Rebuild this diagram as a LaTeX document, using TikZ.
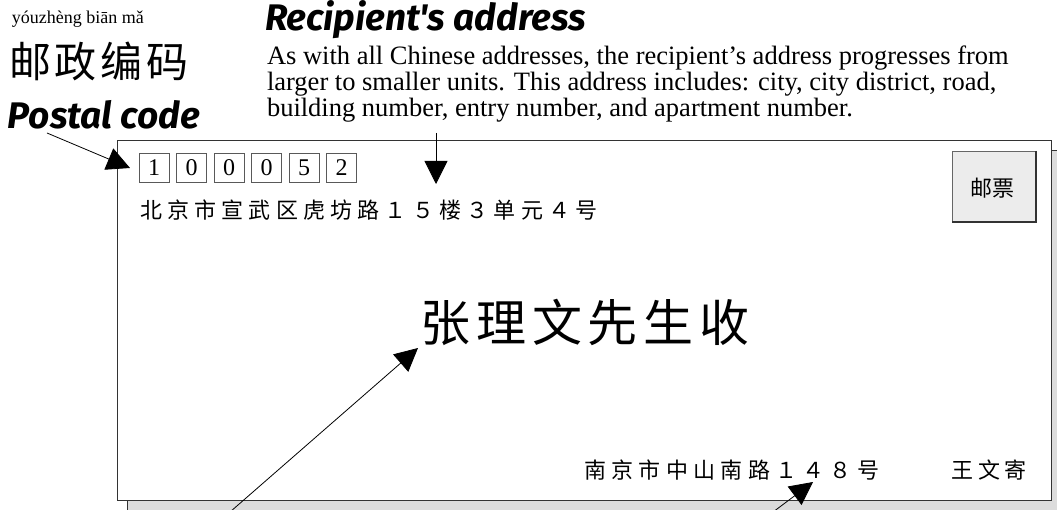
\documentclass[tikz,border=0pt]{standalone}
\usepackage{fontspec}
\setmainfont{Liberation Serif}
\newfontfamily\cjk{Noto Sans CJK SC}
\newfontfamily\headfont{Fira Sans}
\usetikzlibrary{arrows.meta}
\makeatletter
\newcommand\spreadchars[2]{\@tfor\sp@c:=#2\do{\makebox[#1][c]{\sp@c}}}
\makeatother
\definecolor{edge}{HTML}{333333}
\definecolor{shadowgrey}{HTML}{DCDCDC}
\definecolor{stampgrey}{HTML}{ECECEC}
\tikzset{
  txt/.style={inner sep=0pt, outer sep=0pt},
  digitbox/.style={draw=gray!70!black, line width=0.8pt, minimum width=30pt, minimum height=29pt, inner sep=0pt, font=\fontsize{24}{24}\selectfont},
  pointer/.style={line width=0.8pt, -{Triangle[length=23pt,width=23pt]}},
  headline/.style={txt, anchor=base west, font=\headfont\bfseries\itshape\fontsize{37}{37}\selectfont},
  para/.style={txt, anchor=base west, font=\fontsize{26.5}{26}\selectfont}
}
\begin{document}
\begin{tikzpicture}[x=1pt,y=-1pt]
\clip (0,0) rectangle (1057,510);
\fill[white] (0,0) rectangle (1057,510);
% envelope shadow and envelope
\draw[edge, line width=1pt, fill=shadowgrey] (127,151) rectangle (1080,530);
\draw[edge, line width=1pt, fill=white] (117,141) rectangle (1051,500);
% stamp
\node[draw=gray!80!black, line width=1pt, fill=stampgrey, minimum width=83pt, minimum height=70pt, anchor=north west] (stamp) at (952,151) {};
\draw[gray!40!black, line width=1.2pt] (stamp.north east) -- (stamp.south east) -- (stamp.south west);
\node[txt, font=\cjk\fontsize{22}{22}\selectfont] (stamptext) at (992,188) {邮票};
% postal code boxes
\foreach \d [count=\i from 0] in {1,0,0,0,5,2} {
  \node[digitbox] (p\i) at ({154+\i*37.5},167.5) {\d};
}
% top-left labels
\node[txt, anchor=base west, font=\fontsize{18}{18}\selectfont] (pinyin) at (12,24) {yóuzhèng biān mǎ};
\node[txt, anchor=west, font=\cjk\fontsize{42}{42}\selectfont] (youzheng) at (7,61) {\spreadchars{46pt}{邮政编码}};
\node[headline] (postal) at (8,129) {Postal code};
% recipient's address explanation
\node[headline] (rahead) at (265,31) {Recipient's address};
\node[para] (par1) at (267,65) {As with all Chinese addresses, the recipient’s address progresses from};
\node[para] (par2) at (267,91) {larger to smaller units. This address includes: city, city district, road,};
\node[para] (par3) at (267,117) {building number, entry number, and apartment number.};
% envelope text
\node[txt, anchor=west, font=\cjk\fontsize{22}{22}\selectfont] (addr) at (137.6,210) {\spreadchars{27.2pt}{北京市宣武区虎坊路１５楼３单元４号}};
\node[txt, anchor=west, font=\cjk\fontsize{50}{50}\selectfont] (name) at (418,322) {\spreadchars{55.7pt}{张理文先生收}};
\node[txt, anchor=west, font=\cjk\fontsize{22}{22}\selectfont] (sender) at (581.6,470) {\spreadchars{27.3pt}{南京市中山南路１４８号}};
\node[txt, anchor=west, font=\cjk\fontsize{22}{22}\selectfont] (sendername) at (949,470) {\spreadchars{26.7pt}{王文寄}};
% pointers
\coordinate (pcstart) at (47,133);
\coordinate (pctip) at (130,168);
\coordinate (rastart) at (436,133);
\coordinate (ratip) at (436,184);
\coordinate (nmstart) at (230,512);
\coordinate (nmtip) at (418,348);
\coordinate (bkstart) at (773,512);
\coordinate (bktip) at (813,482);
\draw[pointer] (pcstart) -- (pctip);
\draw[pointer] (rastart) -- (ratip);
\draw[pointer] (nmstart) -- (nmtip);
\draw[pointer] (bkstart) -- (bktip);
\end{tikzpicture}
\end{document}
